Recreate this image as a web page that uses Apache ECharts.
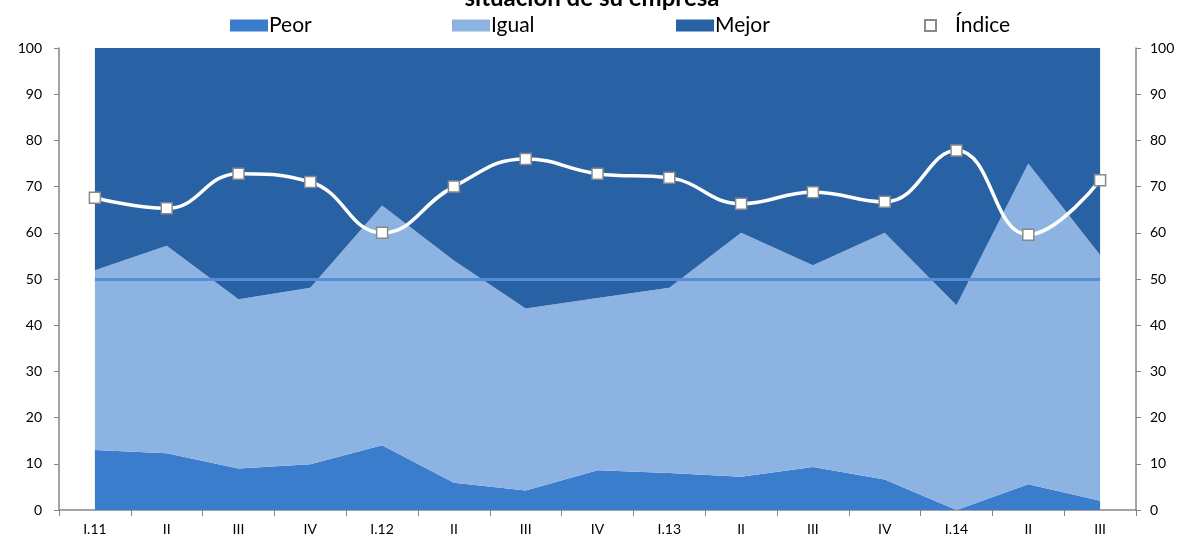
<!DOCTYPE html>
<html>
<head>
<meta charset="utf-8">
<script src="https://cdn.jsdelivr.net/npm/echarts@6/dist/echarts.min.js"></script>
<style>
  html, body { margin: 0; padding: 0; background: #fff; }
  #main { width: 1184px; height: 536px; }
</style>
</head>
<body>
<div id="main"></div>
<script>
const categories = ['I.11', 'II', 'III', 'IV', 'I.12', 'II', 'III', 'IV', 'I.13', 'II', 'III', 'IV', 'I.14', 'II', 'III'];
const peor = [13.0, 12.3, 9.0, 9.9, 14.0, 5.9, 4.2, 8.6, 8.0, 7.2, 9.3, 6.6, 0, 5.6, 2.0];
const igual = [38.9, 44.9, 36.6, 38.2, 51.9, 48.1, 39.4, 37.3, 40.1, 52.8, 43.7, 53.4, 44.3, 69.4, 53.2];
const mejor = [48.1, 42.8, 54.4, 51.9, 34.1, 46.0, 56.4, 54.1, 51.9, 40.0, 47.0, 40.0, 55.7, 25.0, 44.8];
const indice = [67.6, 65.3, 72.8, 71.0, 60.0, 70.0, 76.0, 72.8, 71.9, 66.3, 68.8, 66.7, 77.8, 59.6, 71.4];
const refLevel = 50;

const font = 'Lato, "Liberation Sans", sans-serif';
const axisGray = '#868686';

let myChart = echarts.init(document.getElementById('main'));

function legendAt(name, left, opts) {
  return Object.assign({
    data: [{ name: name, icon: 'rect' }],
    left: left,
    top: 10,
    itemWidth: 38,
    itemHeight: 12,
    textStyle: { fontFamily: font, fontSize: 21, color: '#000', padding: [0, 0, 0, -4] }
  }, opts || {});
}

function yAxisDef(pos, margin) {
  return {
    type: 'value',
    position: pos,
    min: 0,
    max: 100,
    interval: 10,
    axisLine: { show: true, lineStyle: { color: axisGray, width: 1.5 } },
    axisTick: { show: true, length: 5, lineStyle: { color: axisGray } },
    splitLine: { show: false },
    axisLabel: { margin: margin, fontFamily: font, fontSize: 14, color: '#000' }
  };
}

myChart.setOption({
  animation: false,
  title: {
    text: 'situación de su empresa',
    left: 'center',
    top: -19,
    textStyle: { fontFamily: font, fontSize: 24, fontWeight: 'bold', color: '#000' }
  },
  legend: [
    legendAt('Peor', 225),
    legendAt('Igual', 447),
    legendAt('Mejor', 671),
    legendAt('Índice', 919, {
      itemWidth: 11,
      itemHeight: 11,
      textStyle: { fontFamily: font, fontSize: 21, color: '#000', padding: [0, 0, 0, 14] }
    })
  ],
  grid: { left: 59, right: 48, top: 48, bottom: 23 },
  xAxis: {
    type: 'category',
    data: categories,
    boundaryGap: true,
    axisLine: { show: true, lineStyle: { color: axisGray, width: 1.5 } },
    axisTick: { show: true, length: 6, interval: 0, lineStyle: { color: axisGray } },
    axisLabel: { interval: 0, margin: 12, fontFamily: font, fontSize: 14, color: '#000' }
  },
  yAxis: [yAxisDef('left', 17), yAxisDef('right', 14)],
  series: [
    {
      name: 'Peor',
      type: 'line',
      stack: 'total',
      data: peor,
      showSymbol: false,
      lineStyle: { width: 0 },
      itemStyle: { color: '#3B7DCD' },
      areaStyle: { color: '#3B7DCD', opacity: 1 },
      z: 1
    },
    {
      name: 'Igual',
      type: 'line',
      stack: 'total',
      data: igual,
      showSymbol: false,
      lineStyle: { width: 0 },
      itemStyle: { color: '#8DB3E2' },
      areaStyle: { color: '#8DB3E2', opacity: 1 },
      z: 1
    },
    {
      name: 'Mejor',
      type: 'line',
      stack: 'total',
      data: mejor,
      showSymbol: false,
      lineStyle: { width: 0 },
      itemStyle: { color: '#2961A5' },
      areaStyle: { color: '#2961A5', opacity: 1 },
      z: 1,
      markLine: {
        silent: true,
        symbol: 'none',
        label: { show: false },
        lineStyle: { color: '#558ED5', width: 3, type: 'solid' },
        data: [[{ coord: [0, refLevel] }, { coord: [categories.length - 1, refLevel] }]]
      }
    },
    {
      name: 'Índice',
      type: 'line',
      data: indice,
      smooth: 0.45,
      symbol: 'rect',
      symbolSize: 11,
      lineStyle: { color: '#fff', width: 3.5 },
      itemStyle: { color: '#fff', borderColor: '#888', borderWidth: 1.5 },
      z: 5
    }
  ]
});
</script>
</body>
</html>
